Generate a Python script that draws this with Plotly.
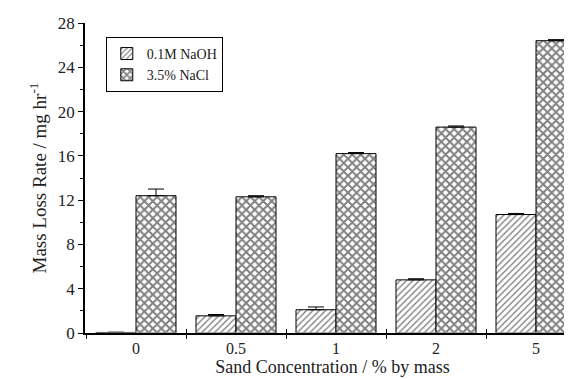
import plotly.graph_objects as go

categories = ["0", "0.5", "1", "2", "5"]
naoh_values = [0.05, 1.55, 2.1, 4.8, 10.7]
naoh_errors = [0.02, 0.12, 0.25, 0.1, 0.1]
nacl_values = [12.4, 12.3, 16.2, 18.6, 26.4]
nacl_errors = [0.6, 0.1, 0.1, 0.1, 0.1]
series_names = ["0.1M NaOH", "3.5% NaCl"]

FONT = "Liberation Serif, Times New Roman, serif"

fig = go.Figure()
fig.add_trace(go.Bar(
    x=categories, y=naoh_values, name=series_names[0],
    marker=dict(color="white", line=dict(color="black", width=1),
                pattern=dict(shape="/", size=4.5, solidity=0.3, fgcolor="black", bgcolor="white")),
    error_y=dict(type="data", array=naoh_errors, arrayminus=[0]*5, symmetric=False,
                 color="black", thickness=1, width=8),
))
fig.add_trace(go.Bar(
    x=categories, y=nacl_values, name=series_names[1],
    marker=dict(color="white", line=dict(color="black", width=1),
                pattern=dict(shape="x", size=6, solidity=0.55, fgcolor="black", bgcolor="white")),
    error_y=dict(type="data", array=nacl_errors, arrayminus=[0]*5, symmetric=False,
                 color="black", thickness=1, width=8),
))

fig.update_layout(
    width=572, height=379,
    margin=dict(l=77, r=0, t=15, b=54),
    plot_bgcolor="white", paper_bgcolor="white",
    font=dict(family=FONT, size=16, color="#222"),
    barmode="group", bargap=0.2, bargroupgap=0,
    showlegend=True,
    legend=dict(x=0.042, y=0.955, xanchor="left", yanchor="top",
                bordercolor="black", borderwidth=1, bgcolor="white",
                font=dict(family=FONT, size=14), tracegroupgap=0, itemwidth=30),
    xaxis=dict(
        type="category", range=[-0.51, 4.44],
        showline=True, linecolor="black", linewidth=1.5,
        ticks="outside", tickson="boundaries", ticklen=4, tickcolor="black", tickwidth=1,
        title=dict(text="Sand Concentration / % by mass", standoff=2, font=dict(size=18)),
        tickfont=dict(size=16),
    ),
    xaxis2=dict(
        type="category", range=[-0.51, 4.44], overlaying="x", matches="x",
        showline=False, ticks="inside", tickson="boundaries", ticklen=4,
        tickcolor="black", tickwidth=1, showticklabels=False, side="bottom",
    ),
    yaxis=dict(
        range=[0, 28], dtick=4, tick0=0,
        showline=True, linecolor="black", linewidth=1.5,
        ticks="outside", ticklen=5, tickcolor="black", tickwidth=1,
        minor=dict(dtick=2, ticks="outside", ticklen=3, tickcolor="black", tickwidth=1),
        showgrid=False, zeroline=False,
        title=dict(text="Mass Loss Rate / mg hr<sup>-1</sup>", standoff=6, font=dict(size=19)),
        tickfont=dict(size=17),
    ),
)
fig.add_trace(go.Bar(x=categories, y=[0]*5, xaxis="x2", showlegend=False,
                     marker=dict(color="rgba(0,0,0,0)"), hoverinfo="skip"))

fig.write_html("out.html")
